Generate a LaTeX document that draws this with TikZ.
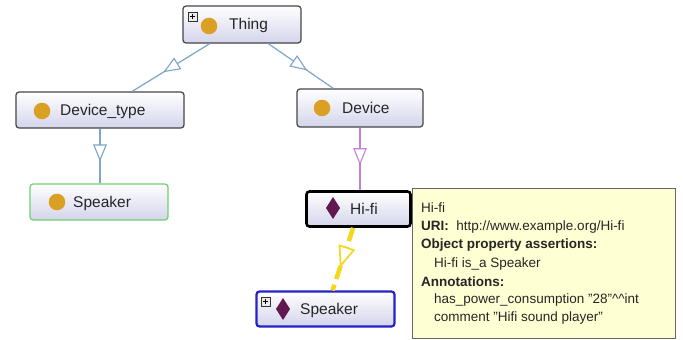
\documentclass[tikz,border=0pt]{standalone}
\usepackage{fontspec}
\setmainfont{Liberation Sans}
\usetikzlibrary{arrows.meta,decorations.markings,calc}
\definecolor{lav}{RGB}{212,212,236}
\definecolor{bordgray}{RGB}{70,70,70}
\definecolor{dotor}{RGB}{218,160,35}
\definecolor{diapur}{RGB}{95,25,80}
\definecolor{edgeblue}{RGB}{125,165,200}
\definecolor{edgeviolet}{RGB}{195,130,215}
\definecolor{edgeyel}{RGB}{245,215,30}
\definecolor{tipfill}{RGB}{255,255,212}
\definecolor{spgreen}{RGB}{110,210,110}
\definecolor{spblue}{RGB}{35,35,200}
\tikzset{
  clsbox/.style={rectangle, rounded corners=3pt, draw=bordgray, line width=1.2pt,
    top color=white, bottom color=lav, inner sep=0pt},
  lbl/.style={anchor=west, inner sep=0pt, font=\fontsize{15.5}{18}\selectfont, text=black!85},
  tiptxt/.style={anchor=west, inner sep=0pt, font=\fontsize{13.5}{16}\selectfont, text=black!85},
  dotic/.style={fill=dotor},
  diaic/.style={fill=diapur},
  midtri/.style n args={5}{postaction={decorate}, decoration={markings,
      mark=at position #1 with {\arrow{Triangle[length=#3, width=#4, fill=white, color=#2, line width=#5]}}}},
  isaedge/.style={draw=edgeblue, line width=1.2pt, midtri={0.6}{edgeblue}{17pt}{13.5pt}{1.1pt}},
  plusbox/.style={draw=black!80, fill=black!8, line width=0.6pt},
}
\begin{document}
\begin{tikzpicture}[x=1pt, y=-1pt]
\useasboundingbox (0,0) rectangle (683,340);
\fill[white] (0,0) rectangle (683,340);

% boxes
\node[clsbox, minimum width=118pt, minimum height=37pt] (thing) at (242,24.5) {};
\node[clsbox, minimum width=168pt, minimum height=36pt] (dtype) at (100,110) {};
\node[clsbox, minimum width=126pt, minimum height=38pt] (device) at (360,108) {};
\node[clsbox, draw=spgreen, minimum width=138pt, minimum height=36pt] (spkg) at (99,202) {};
\node[clsbox, draw=black, line width=2.6pt, minimum width=104pt, minimum height=35pt] (hifi) at (358.5,209) {};
\node[clsbox, draw=spblue, line width=2.2pt, minimum width=138pt, minimum height=35pt] (spkb) at (325.5,309) {};

% edge anchors
\coordinate (t1) at ($(thing.south west)!0.23!(thing.south east)$);
\coordinate (t2) at ($(thing.south west)!0.72!(thing.south east)$);
\coordinate (dt1) at ($(dtype.north west)!0.69!(dtype.north east)$);
\coordinate (dv1) at ($(device.north west)!0.29!(device.north east)$);
\coordinate (h1) at ($(hifi.south west)!0.45!(hifi.south east)$);
\coordinate (s1) at ($(spkb.north west)!0.55!(spkb.north east)$);

% edges
\path[isaedge] (t1) -- (dt1);
\path[isaedge] (t2) -- (dv1);
\path[isaedge] (dtype.south) -- (dtype.south |- spkg.north);
\path[draw=edgeviolet, line width=1.2pt, midtri={0.6}{edgeviolet}{17pt}{13.5pt}{1.1pt}] (device.south) -- (device.south |- hifi.north);
\path[draw=edgeyel, line width=4.5pt, dash pattern=on 14pt off 6pt] (h1) -- (s1);
\path[midtri={0.64}{edgeyel}{22pt}{17pt}{1.7pt}] (h1) -- (s1);

% icons
\fill[dotic] (209,26) circle (8.3pt);
\fill[dotic] (322,108) circle (8.3pt);
\fill[dotic] (42,111) circle (8.3pt);
\fill[dotic] (57,202) circle (8.3pt);
\fill[diaic] (333,197) -- (340,208) -- (333,219) -- (326,208) -- cycle;
\fill[diaic] (283,298) -- (290,309) -- (283,320) -- (276,309) -- cycle;

% plus boxes
\draw[plusbox] (188,12) rectangle (197,21);
\draw[black, line width=0.8pt] (189.8,16.5) -- (195.2,16.5) (192.5,13.8) -- (192.5,19.2);
\draw[plusbox] (261,297) rectangle (270,306);
\draw[black, line width=0.8pt] (262.8,301.5) -- (268.2,301.5) (265.5,298.8) -- (265.5,304.2);

% labels
\node[lbl] (thingl) at (229,25) {Thing};
\node[lbl] (dtypel) at (60,111) {Device\_type};
\node[lbl] (devicel) at (342,108) {Device};
\node[lbl] (spkgl) at (73,203) {Speaker};
\node[lbl] (hifil) at (350,209) {Hi-fi};
\node[lbl] (spkbl) at (300,310) {Speaker};

% tooltip
\node[rectangle, draw=black!60, line width=1.2pt, fill=tipfill, minimum width=263pt, minimum height=150pt, inner sep=0pt, anchor=north west] (tip) at (412,188) {};
\node[tiptxt] (tp1) at (421,208) {Hi-fi};
\node[tiptxt] (tp2) at (421,227) {\textbf{URI:}\ \ http://www.example.org/Hi-fi};
\node[tiptxt] (tp3) at (421,245) {\textbf{Object property assertions:}};
\node[tiptxt] (tp4) at (434,264) {Hi-fi is\_a Speaker};
\node[tiptxt] (tp5) at (421,282) {\textbf{Annotations:}};
\node[tiptxt] (tp6) at (434,300) {has\_power\_consumption "28"\^{}\^{}int};
\node[tiptxt] (tp7) at (434,318) {comment "Hifi sound player"};
\end{tikzpicture}
\end{document}
